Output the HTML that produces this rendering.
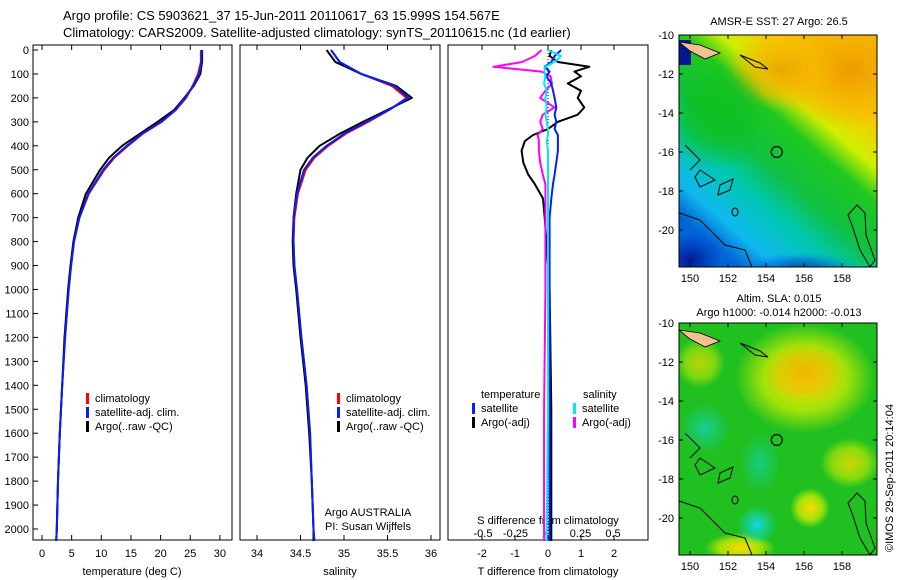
<!DOCTYPE html>
<html><head><meta charset="utf-8"><style>
body{margin:0;background:#fff;}
svg{display:block;font-family:"Liberation Sans",sans-serif;}
</style></head><body>
<svg id="c" width="900" height="580" viewBox="0 0 900 580">
<defs>
<radialGradient id="gOr" cx="0.5" cy="0.5" r="0.5"><stop offset="0" stop-color="#f09a00"/><stop offset="0.6" stop-color="#f5b800" stop-opacity="0.8"/><stop offset="1" stop-color="#f5b800" stop-opacity="0"/></radialGradient>
<radialGradient id="gYe" cx="0.5" cy="0.5" r="0.5"><stop offset="0" stop-color="#ffd800"/><stop offset="0.6" stop-color="#d8f000" stop-opacity="0.7"/><stop offset="1" stop-color="#d8f000" stop-opacity="0"/></radialGradient>
<radialGradient id="gGr" cx="0.5" cy="0.5" r="0.5"><stop offset="0" stop-color="#10c020"/><stop offset="0.5" stop-color="#10c020" stop-opacity="0.7"/><stop offset="1" stop-color="#10c020" stop-opacity="0"/></radialGradient>
<radialGradient id="gCy" cx="0.5" cy="0.5" r="0.5"><stop offset="0" stop-color="#10d8e0"/><stop offset="1" stop-color="#10d8e0" stop-opacity="0"/></radialGradient>
<radialGradient id="gBl" cx="0.5" cy="0.5" r="0.5"><stop offset="0" stop-color="#001890"/><stop offset="0.5" stop-color="#0050d0" stop-opacity="0.8"/><stop offset="1" stop-color="#0090f0" stop-opacity="0"/></radialGradient>
<linearGradient id="gTop" x1="1" y1="0.05" x2="0.3" y2="1"><stop offset="0" stop-color="#f0a000"/><stop offset="0.22" stop-color="#f8c800"/><stop offset="0.36" stop-color="#d0f000"/><stop offset="0.46" stop-color="#20c820"/><stop offset="0.62" stop-color="#10c040"/><stop offset="0.75" stop-color="#00c8b0"/><stop offset="0.9" stop-color="#10b8f0"/><stop offset="1" stop-color="#0060d0"/></linearGradient>
<clipPath id="cp1"><rect x="679" y="35" width="198" height="232"/></clipPath>
<clipPath id="cp2"><rect x="679" y="323" width="198" height="232"/></clipPath>
</defs>
<g id="g"></g>
<text x="63" y="20" font-size="13">Argo profile: CS 5903621_37 15-Jun-2011 20110617_63 15.999S 154.567E</text>
<text x="63" y="37" font-size="13">Climatology: CARS2009. Satellite-adjusted climatology: synTS_20110615.nc (1d earlier)</text>
<text x="779" y="25" font-size="11" text-anchor="middle">AMSR-E SST: 27 Argo: 26.5</text>
<text x="779" y="302" font-size="11" text-anchor="middle">Altim. SLA: 0.015</text>
<text x="779" y="316" font-size="11" text-anchor="middle">Argo h1000: -0.014 h2000: -0.013</text>
<text transform="translate(893,552) rotate(-90)" font-size="11">©IMOS 29-Sep-2011 20:14:04</text>
</svg>
<script>
const depths=[0,50,100,150,200,250,300,350,400,450,500,600,700,800,900,1000,1200,1400,1600,1800,2000,2050];
const tempArgo=[27,27,26.7,25.6,24,22.3,19.5,16.5,13.5,11.3,9.8,7.4,6.1,5.3,4.8,4.4,3.8,3.4,3.0,2.7,2.5,2.4];
const tempClim=[26.8,26.8,26.3,25.4,24.3,22.6,20.2,17,14.5,12.2,10.5,7.9,6.3,5.4,4.9,4.5,3.9,3.4,3.0,2.7,2.5,2.4];
const tempSat=[26.9,26.9,26.5,25.5,24.1,22.5,20.1,16.8,14.3,12,10.3,7.8,6.3,5.4,4.9,4.5,3.9,3.4,3.0,2.7,2.5,2.4];
const salArgo=[34.8,34.9,35.2,35.6,35.78,35.5,35.22,34.95,34.72,34.58,34.5,34.45,34.42,34.41,34.42,34.45,34.5,34.56,34.6,34.63,34.65,34.65];
const salClim=[34.85,34.95,35.2,35.55,35.72,35.52,35.28,35.02,34.82,34.66,34.56,34.47,34.43,34.42,34.43,34.46,34.51,34.57,34.61,34.63,34.65,34.66];
const salSat=[34.85,34.95,35.2,35.58,35.74,35.52,35.26,35.0,34.8,34.64,34.54,34.46,34.42,34.42,34.43,34.46,34.51,34.57,34.61,34.63,34.65,34.66];
const ddep=[0,25,50,70,90,110,140,170,200,240,270,300,330,355,380,420,470,520,560,620,700,800,1000,1500,2050];
const dTArgo=[0.1,0.05,0.3,1.25,0.8,1.0,0.6,1.0,0.9,1.1,0.9,0.3,0.0,-0.45,-0.7,-0.8,-0.75,-0.6,-0.4,-0.15,-0.1,-0.05,0.05,0.1,0.1];
const dTSat=[0.4,0.2,0.1,-0.1,0.05,-0.05,0.1,0.15,0.2,0.25,0.2,0.25,0.2,0.3,0.3,0.3,0.25,0.2,0.15,0.1,0.05,0.05,0.05,0.05,0.05];
const dSArgo=[-0.05,-0.1,-0.2,-0.42,-0.05,0.02,0.03,-0.02,-0.06,0.05,-0.04,-0.06,-0.04,-0.08,-0.07,-0.07,-0.06,-0.04,-0.02,-0.02,-0.02,-0.02,-0.02,-0.03,-0.03];
const dSSat=[0.0,0.1,0.05,-0.02,-0.03,-0.02,-0.03,-0.01,-0.02,-0.01,-0.02,-0.01,0.0,0.0,-0.01,0.0,0.0,0.0,0.0,0.0,0.0,0.0,0.0,0.0,-0.01];
const depthTicks=[0,100,200,300,400,500,600,700,800,900,1000,1100,1200,1300,1400,1500,1600,1700,1800,1900,2000];
const tTicks=[0,5,10,15,20,25,30];
const sTicks=[34,34.5,35,35.5,36];
const dTTicks=[-2,-1,0,1,2];
const dSTicks=["-0.5","-0.25","0","0.25","0.5"];
const lonTicks=[150,152,154,156,158];
const latTicks=[-10,-12,-14,-16,-18,-20];

const NS='http://www.w3.org/2000/svg';
const G=document.getElementById('g');
function el(t,a,p){const e=document.createElementNS(NS,t);for(const k in a)e.setAttribute(k,a[k]);(p||G).appendChild(e);return e;}
function txt(x,y,s,sz,anchor,p){const e=el('text',{x:x,y:y,'font-size':sz,'text-anchor':anchor||'middle'},p);e.textContent=s;return e;}
const Y=d=>50+d*0.2395;
const PY0=45,PY1=540;
const xT=t=>42+t*5.93, xS=s=>257+(s-34)*87, xDT=v=>548+v*33, xDS=v=>548+v*130;

function frame(x0,x1,name){
  const r=el('rect',{x:x0,y:PY0,width:x1-x0,height:PY1-PY0,fill:'none',stroke:'#000','stroke-width':1});
  
}
function line(xs,ds,fx,col,w,name){
  const pts=ds.map((d,i)=>fx(xs[i]).toFixed(1)+','+Y(d).toFixed(1)).join(' ');
  const p=el('polyline',{points:pts,fill:'none',stroke:col,'stroke-width':w,'stroke-linejoin':'round'});
  
}
frame(33,232,'temperature-panel');frame(240,440,'salinity-panel');frame(448,648,'difference-panel');
depthTicks.forEach(d=>{
  el('line',{x1:33,x2:38,y1:Y(d),y2:Y(d),stroke:'#000'});
  const t=txt(29,Y(d)+4,String(d),11,'end');
  
});
tTicks.forEach(v=>{el('line',{x1:xT(v),x2:xT(v),y1:PY1,y2:PY1-5,stroke:'#000'});el('line',{x1:xT(v),x2:xT(v),y1:PY0,y2:PY0+5,stroke:'#000'});
  const t=txt(xT(v),557,String(v),11);});
sTicks.forEach(v=>{el('line',{x1:xS(v),x2:xS(v),y1:PY1,y2:PY1-5,stroke:'#000'});el('line',{x1:xS(v),x2:xS(v),y1:PY0,y2:PY0+5,stroke:'#000'});
  const t=txt(xS(v),557,String(v),11);});
dTTicks.forEach(v=>{el('line',{x1:xDT(v),x2:xDT(v),y1:PY1,y2:PY1-5,stroke:'#000'});el('line',{x1:xDT(v),x2:xDT(v),y1:PY0,y2:PY0+5,stroke:'#000'});
  const t=txt(xDT(v),557,String(v),11);});
dSTicks.forEach(v=>{const t=txt(xDS(parseFloat(v)),537,v,11);});
txt(132,575,'temperature (deg C)',11);txt(340,575,'salinity',11);txt(548,575,'T difference from climatology',11);
txt(548,524,'S difference from climatology',11);
txt(368,516,'Argo AUSTRALIA',11);txt(368,530,'PI: Susan Wijffels',11);
el('line',{x1:548,x2:548,y1:Y(0),y2:Y(2050),stroke:'#000','stroke-dasharray':'1,2'});
line(tempClim,depths,xT,'#f00',2,'temp-climatology-line');
line(tempArgo,depths,xT,'#000',2,'temp-argo-line');
line(tempSat,depths,xT,'#0020ff',2,'temp-satellite-line');
line(salClim,depths,xS,'#f00',2,'sal-climatology-line');
line(salArgo,depths,xS,'#000',2,'sal-argo-line');
line(salSat,depths,xS,'#0020ff',2,'sal-satellite-line');
line(dTArgo,ddep,xDT,'#000',2,'tdiff-argo-line');
line(dSArgo,ddep,xDS,'#ff00ff',2,'sdiff-argo-line');
line(dTSat,ddep,xDT,'#0020ff',2,'tdiff-satellite-line');
line(dSSat,ddep,xDS,'#00e8f0',2,'sdiff-satellite-line');
function leg(x,y,col,label,name){el('rect',{x:x,y:y-9,width:3,height:11,fill:col});const t=txt(x+9,y,label,11,'start');}
[[33+53,0],[240+97,1]].forEach(([x,k])=>{leg(x,402,'#f00','climatology','legend-climatology');leg(x,416,'#0020ff','satellite-adj. clim.','legend-satellite');leg(x,430,'#000','Argo(..raw -QC)','legend-argo');});
txt(481,398,'temperature',11,'start');txt(583,398,'salinity',11,'start');
leg(472,412,'#0020ff','satellite','legend-t-sat');leg(472,426,'#000','Argo(-adj)','legend-t-argo');
leg(573,412,'#00e8f0','satellite','legend-s-sat');leg(573,426,'#ff00ff','Argo(-adj)','legend-s-argo');
const xL=l=>690+(l-150)*19;
function map(y0,top,name){
  const cg=el('g',{'clip-path':'url(#cp'+(top?1:2)+')'});
  
  const yl=l=>y0+(-10-l)*19.5;
  if(top){
    el('rect',{x:679,y:y0,width:198,height:232,fill:'url(#gTop)'},cg);
    el('ellipse',{cx:850,cy:y0+35,rx:80,ry:60,fill:'url(#gOr)'},cg);
    el('ellipse',{cx:780,cy:y0+35,rx:55,ry:40,fill:'url(#gOr)',opacity:0.8},cg);
    el('ellipse',{cx:715,cy:y0+80,rx:55,ry:55,fill:'url(#gGr)'},cg);
    el('ellipse',{cx:690,cy:y0+225,rx:50,ry:40,fill:'url(#gBl)'},cg);
    el('ellipse',{cx:800,cy:y0+232,rx:60,ry:15,fill:'url(#gBl)',opacity:0.6},cg);
    el('rect',{x:679,y:y0+5,width:12,height:25,fill:'#001890'},cg);
  }else{
    el('rect',{x:679,y:y0,width:198,height:232,fill:'#20c020'},cg);
    el('ellipse',{cx:805,cy:y0+55,rx:70,ry:55,fill:'url(#gYe)'},cg);
    el('ellipse',{cx:805,cy:y0+50,rx:40,ry:30,fill:'url(#gOr)',opacity:0.6},cg);
    el('ellipse',{cx:850,cy:y0+140,rx:30,ry:25,fill:'url(#gYe)',opacity:0.8},cg);
    el('ellipse',{cx:810,cy:y0+185,rx:20,ry:20,fill:'url(#gYe)'},cg);
    el('ellipse',{cx:700,cy:y0+40,rx:25,ry:25,fill:'url(#gYe)',opacity:0.7},cg);
    el('ellipse',{cx:740,cy:y0+225,rx:35,ry:15,fill:'url(#gYe)'},cg);
    el('ellipse',{cx:757,cy:y0+202,rx:20,ry:20,fill:'url(#gCy)'},cg);
    el('ellipse',{cx:705,cy:y0+105,rx:25,ry:25,fill:'url(#gCy)',opacity:0.6},cg);
    el('ellipse',{cx:760,cy:y0+140,rx:20,ry:30,fill:'url(#gCy)',opacity:0.5},cg);
  }
  el('path',{d:`M679 ${y0+7} L700 ${y0+10} L720 ${y0+18} L705 ${y0+24} L690 ${y0+16} Z`,fill:'#f5c090',stroke:'#000','stroke-width':0.8},cg);
  el('path',{d:`M740 ${y0+20} L760 ${y0+28} L768 ${y0+34} L755 ${y0+32} Z`,fill:'none',stroke:'#000'},cg);
  el('path',{d:`M685 ${y0+110} L700 ${y0+125} L690 ${y0+135} M700 ${y0+135} L715 ${y0+145} L700 ${y0+152} L695 ${y0+142} Z M720 ${y0+150} L733 ${y0+144} L730 ${y0+155} L718 ${y0+160} Z`,fill:'none',stroke:'#000'},cg);
  el('path',{d:`M679 ${y0+178} L700 ${y0+185} L725 ${y0+210} L745 ${y0+215} L752 ${y0+232}`,fill:'none',stroke:'#000'},cg);
  el('path',{d:`M857 ${y0+170} L865 ${y0+178} L866 ${y0+200} L875 ${y0+225} L870 ${y0+232} L860 ${y0+215} L852 ${y0+190} L848 ${y0+180} Z`,fill:'none',stroke:'#000'},cg);
  el('ellipse',{cx:735,cy:y0+177,rx:3,ry:4,fill:'none',stroke:'#000'},cg);
  el('rect',{x:679,y:y0,width:198,height:232,fill:'none',stroke:'#000'});
  const mk=el('circle',{cx:xL(154.567),cy:yl(-15.999),r:5.5,fill:'none',stroke:'#000','stroke-width':1.2});
  
  lonTicks.forEach(l=>{el('line',{x1:xL(l),x2:xL(l),y1:y0+232,y2:y0+228,stroke:'#000'});el('line',{x1:xL(l),x2:xL(l),y1:y0,y2:y0+4,stroke:'#000'});
    const t=txt(xL(l),y0+247,String(l),11);});
  latTicks.forEach(l=>{el('line',{x1:679,x2:683,y1:yl(l),y2:yl(l),stroke:'#000'});el('line',{x1:877,x2:873,y1:yl(l),y2:yl(l),stroke:'#000'});
    const t=txt(674,yl(l)+4,String(l),11,'end');});
}
map(35,true,'sst-map');map(323,false,'sla-map');
</script>
</body></html>
